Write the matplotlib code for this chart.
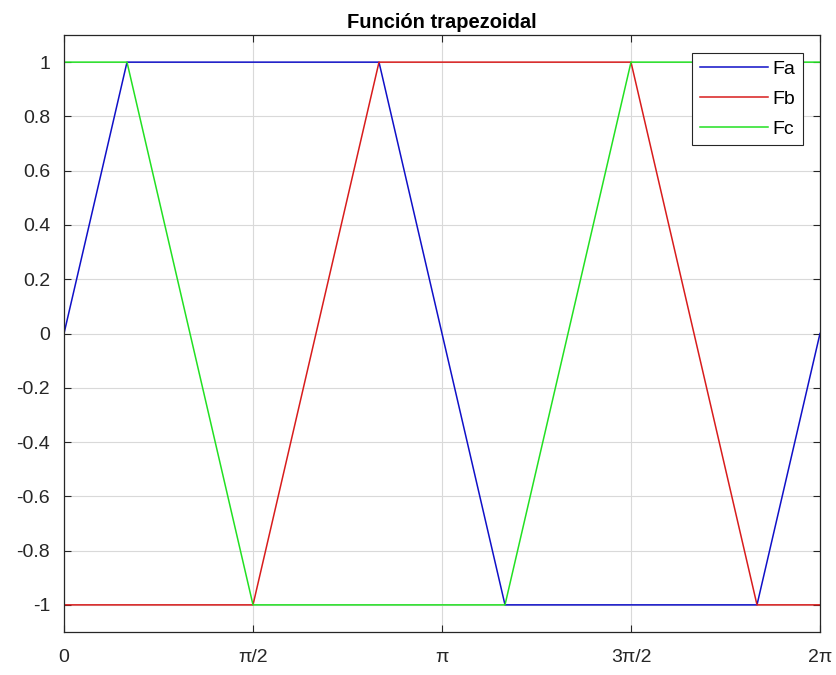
import matplotlib.pyplot as plt
import numpy as np

plt.rcParams['font.family'] = ['Liberation Sans', 'DejaVu Sans']

# breakpoints every pi/6
k = np.arange(13)
fa = [0, 1, 1, 1, 1, 1, 0, -1, -1, -1, -1, -1, 0]
fb = [-1, -1, -1, -1, 0, 1, 1, 1, 1, 1, 0, -1, -1]
fc = [1, 1, 0, -1, -1, -1, -1, -1, 0, 1, 1, 1, 1]
x = k * np.pi / 6

xticks = np.arange(5) * np.pi / 2
xlabels = ['0', 'π/2', 'π', '3π/2', '2π']

fig = plt.figure(figsize=(8.37, 6.75), dpi=100)
ax = fig.add_axes([64/837, 1 - 632/675, (820-64)/837, (632-35)/675])

ax.plot(x, fa, color='#1010c8', lw=1.1, label='Fa')
ax.plot(x, fb, color='#d81c1c', lw=1.1, label='Fb')
ax.plot(x, fc, color='#22e022', lw=1.1, label='Fc')

ax.set_xlim(0, 2 * np.pi)
ax.set_ylim(-1.1, 1.1)
ax.set_xticks(xticks)
ax.set_xticklabels(xlabels)
ax.set_yticks(np.round(np.arange(-1, 1.01, 0.2), 1))
ax.set_yticklabels(['-1', '-0.8', '-0.6', '-0.4', '-0.2', '0', '0.2', '0.4', '0.6', '0.8', '1'])
ax.tick_params(direction='in', labelsize=14, length=5, width=0.8, top=True, right=True, colors='#262626')
ax.tick_params(axis='x', pad=12)
ax.tick_params(axis='y', pad=10)
ax.grid(True, color='#d9d9d9', lw=0.8)
for s in ax.spines.values():
    s.set_color('#262626')
    s.set_linewidth(0.9)

ax.set_title('Función trapezoidal', fontsize=14.5, fontweight='bold', pad=5)
leg = ax.legend(loc='upper right', bbox_to_anchor=(0.977, 0.970), fontsize=14, fancybox=False,
                edgecolor='#262626', framealpha=1, handlelength=3.5, borderpad=0.4,
                labelspacing=0.62, handletextpad=0.2, borderaxespad=0)
leg.get_frame().set_linewidth(0.8)

plt.savefig('out.png', dpi=100)
